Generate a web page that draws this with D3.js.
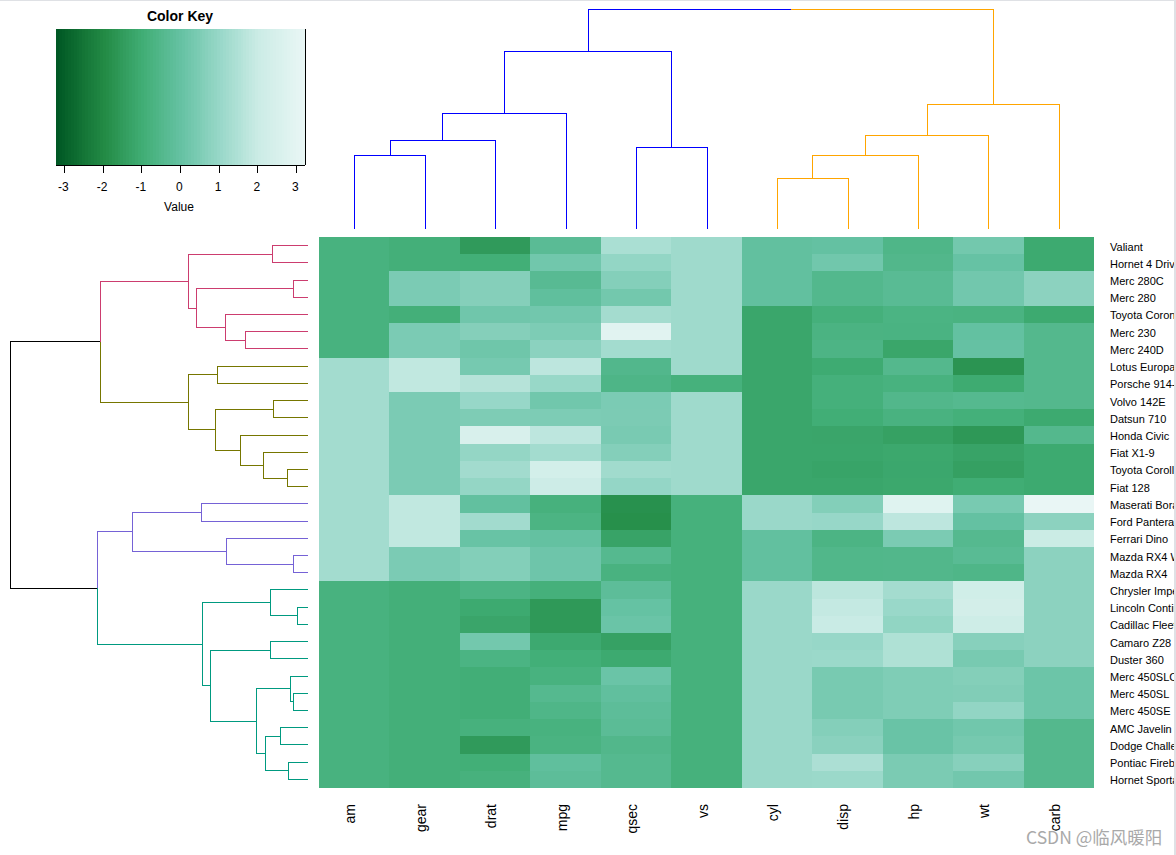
<!DOCTYPE html>
<html>
<head>
<meta charset="utf-8">
<title>mtcars heatmap</title>
<script src="https://cdn.jsdelivr.net/npm/d3@7"></script>
<style>
  html, body { margin: 0; padding: 0; background: #fff; }
  svg { display: block; }
  text { font-family: "Liberation Sans", Arial, sans-serif; fill: #000; }
</style>
</head>
<body>
<div id="chart"></div>
<script>
// row and column order as they come out of the clustering
const rowNames = ['Valiant', 'Hornet 4 Drive', 'Merc 280C', 'Merc 280', 'Toyota Corona', 'Merc 230', 'Merc 240D',
    'Lotus Europa', 'Porsche 914-2', 'Volvo 142E', 'Datsun 710', 'Honda Civic', 'Fiat X1-9', 'Toyota Corolla', 'Fiat 128',
    'Maserati Bora', 'Ford Pantera L', 'Ferrari Dino', 'Mazda RX4 Wag', 'Mazda RX4',
    'Chrysler Imperial', 'Lincoln Continental', 'Cadillac Fleetwood', 'Camaro Z28', 'Duster 360',
    'Merc 450SLC', 'Merc 450SL', 'Merc 450SE', 'AMC Javelin', 'Dodge Challenger', 'Pontiac Firebird', 'Hornet Sportabout'];
const colNames = ['am', 'gear', 'drat', 'mpg', 'qsec', 'vs', 'cyl', 'disp', 'hp', 'wt', 'carb'];

// scaled values, one array per column, in rowNames order
const am = [-0.81, -0.81, -0.81, -0.81, -0.81, -0.81, -0.81, 1.19, 1.19, 1.19, 1.19, 1.19, 1.19, 1.19, 1.19, 1.19, 1.19, 1.19, 1.19, 1.19,
    -0.81, -0.81, -0.81, -0.81, -0.81, -0.81, -0.81, -0.81, -0.81, -0.81, -0.81, -0.81];
const gear = [-0.93, -0.93, 0.42, 0.42, -0.93, 0.42, 0.42, 1.78, 1.78, 0.42, 0.42, 0.42, 0.42, 0.42, 0.42, 1.78, 1.78, 1.78, 0.42, 0.42,
    -0.93, -0.93, -0.93, -0.93, -0.93, -0.93, -0.93, -0.93, -0.93, -0.93, -0.93, -0.93];
const drat = [-1.56, -0.97, 0.60, 0.60, 0.19, 0.60, 0.17, 0.32, 1.56, 0.96, 0.47, 2.49, 0.90, 1.17, 0.90, -0.11, 1.17, 0.04, 0.57, 0.57,
    -0.69, -1.12, -1.25, 0.25, -0.72, -0.98, -0.98, -0.98, -0.84, -1.56, -0.97, -0.84];
const mpg = [-0.33, 0.22, -0.38, -0.15, 0.23, 0.45, 0.72, 1.71, 0.98, 0.22, 0.45, 1.71, 1.20, 2.29, 2.04, -0.84, -0.71, -0.06, 0.15, 0.15,
    -0.89, -1.61, -1.61, -1.13, -0.96, -0.81, -0.46, -0.61, -0.81, -0.76, -0.15, -0.23];
const qsec = [1.33, 0.89, 0.59, 0.25, 1.21, 2.83, 1.20, -0.53, -0.64, 0.42, 0.43, 0.38, 0.59, 1.15, 0.91, -1.82, -1.87, -1.31, -0.46, -0.78,
    -0.24, -0.02, 0.07, -1.36, -1.12, 0.08, -0.14, -0.25, -0.31, -0.55, -0.45, -0.46];
const vs = [1.12, 1.12, 1.12, 1.12, 1.12, 1.12, 1.12, 1.12, -0.87, 1.12, 1.12, 1.12, 1.12, 1.12, 1.12, -0.87, -0.87, -0.87, -0.87, -0.87,
    -0.87, -0.87, -0.87, -0.87, -0.87, -0.87, -0.87, -0.87, -0.87, -0.87, -0.87, -0.87];
const cyl = [-0.10, -0.10, -0.10, -0.10, -1.22, -1.22, -1.22, -1.22, -1.22, -1.22, -1.22, -1.22, -1.22, -1.22, -1.22, 1.01, 1.01, -0.10, -0.10, -0.10,
    1.01, 1.01, 1.01, 1.01, 1.01, 1.01, 1.01, 1.01, 1.01, 1.01, 1.01, 1.01];
const disp = [-0.05, 0.22, -0.51, -0.51, -0.89, -0.73, -0.68, -1.09, -0.89, -0.89, -0.99, -1.25, -1.22, -1.29, -1.23, 0.57, 0.97, -0.69, -0.57, -0.57,
    1.69, 1.85, 1.95, 0.96, 1.04, 0.36, 0.36, 0.36, 0.59, 0.70, 1.37, 1.04];
const hp = [-0.61, -0.54, -0.35, -0.35, -0.72, -0.75, -1.24, -0.49, -0.81, -0.55, -0.78, -1.38, -1.18, -1.19, -1.18, 2.75, 1.71, 0.41, -0.54, -0.54,
    1.21, 1.00, 0.85, 1.43, 1.43, 0.49, 0.49, 0.49, 0.05, 0.05, 0.41, 0.41];
const wt = [0.25, 0.00, 0.23, 0.23, -0.77, -0.07, -0.03, -1.74, -1.10, -0.45, -0.92, -1.64, -1.31, -1.41, -1.04, 0.36, -0.05, -0.46, -0.35, -0.61,
    2.17, 2.26, 2.08, 0.64, 0.36, 0.58, 0.52, 0.87, 0.22, 0.31, 0.64, 0.23];
const carb = [-1.12, -1.12, 0.74, 0.74, -1.12, -0.50, -0.50, -0.50, -0.50, -0.50, -1.12, -0.50, -1.12, -1.12, -1.12, 3.21, 0.74, 1.98, 0.74, 0.74,
    0.74, 0.74, 0.74, 0.74, 0.74, 0.12, 0.12, 0.12, -0.50, -0.50, -0.50, -0.50];
const columns = [am, gear, drat, mpg, qsec, vs, cyl, disp, hp, wt, carb];

// merges: [left, right, height]. A string is a leaf, a number is an earlier merge.
const rowMerges = [
    ['Valiant', 'Hornet 4 Drive', 1.80],        // 0
    ['Merc 280C', 'Merc 280', 0.75],            // 1
    ['Merc 230', 'Merc 240D', 3.15],            // 2
    ['Toyota Corona', 2, 4.15],                 // 3
    [1, 3, 5.60],                               // 4
    [0, 4, 6.00],                               // 5
    ['Lotus Europa', 'Porsche 914-2', 4.55],    // 6
    ['Volvo 142E', 'Datsun 710', 1.75],         // 7
    ['Toyota Corolla', 'Fiat 128', 1.05],       // 8
    ['Fiat X1-9', 8, 2.25],                     // 9
    ['Honda Civic', 9, 3.40],                   // 10
    [7, 10, 4.65],                              // 11
    [6, 11, 6.00],                              // 12
    [5, 12, 10.40],                             // 13
    ['Maserati Bora', 'Ford Pantera L', 5.35],  // 14
    ['Mazda RX4 Wag', 'Mazda RX4', 0.75],       // 15
    ['Ferrari Dino', 15, 4.10],                 // 16
    [14, 16, 8.80],                             // 17
    ['Lincoln Continental', 'Cadillac Fleetwood', 0.55], // 18
    ['Chrysler Imperial', 18, 1.90],            // 19
    ['Camaro Z28', 'Duster 360', 1.90],         // 20
    ['Merc 450SL', 'Merc 450SE', 0.75],         // 21
    ['Merc 450SLC', 21, 0.90],                  // 22
    ['AMC Javelin', 'Dodge Challenger', 1.40],  // 23
    ['Pontiac Firebird', 'Hornet Sportabout', 1.00], // 24
    [23, 24, 2.15],                             // 25
    [22, 25, 2.60],                             // 26
    [20, 26, 4.90],                             // 27
    [19, 27, 5.30],                             // 28
    [17, 28, 10.55],                            // 29
    [13, 29, 14.90]                             // 30
];
const colMerges = [
    ['am', 'gear', 3.70],   // 0
    [0, 'drat', 4.45],      // 1
    [1, 'mpg', 5.80],       // 2
    ['qsec', 'vs', 4.10],   // 3
    [2, 3, 8.90],           // 4
    ['cyl', 'disp', 2.55],  // 5
    [5, 'hp', 3.70],        // 6
    [6, 'wt', 4.70],        // 7
    [7, 'carb', 6.25],      // 8
    [4, 8, 11.00]           // 9
];

// which merge starts which coloured branch
const rowBranches = [[5, '#cc3d6f'], [12, '#767600'], [17, '#7562d6'], [28, '#009a80']];
const colBranches = [[4, '#0000ff'], [8, '#ffa500']];

const keyTicks = [-3, -2, -1, 0, 1, 2, 3];
const keyRange = [-3.22, 3.22];
const paletteStops = ['#005824', '#238b45', '#41ae76', '#66c2a4', '#99d8c9', '#ccece6', '#e5f5f3', '#f7fcfd'];
const paletteDomain = [-3.22, -2, -1, 0, 1, 2, 3, 4];

const width = 1176, height = 855;
const heat = { left: 319, right: 1094, top: 237, bottom: 788 };
const keyBox = { left: 56, right: 305, top: 29, bottom: 165 };

const svg = d3.select('#chart').append('svg').attr('width', width).attr('height', height);

const color = d3.scaleLinear().domain(paletteDomain).range(paletteStops);
const x = d3.scaleBand().domain(colNames).range([heat.left, heat.right]);
const y = d3.scaleBand().domain(rowNames).range([heat.top, heat.bottom]);

// heatmap cells, snapped to whole pixels so no seams show
const cells = svg.append('g').attr('shape-rendering', 'crispEdges');
colNames.forEach((col, c) => {
    const x0 = Math.round(x(col)), x1 = Math.round(x(col) + x.bandwidth());
    cells.selectAll(null)
        .data(columns[c])
        .join('rect')
        .attr('x', x0)
        .attr('y', (d, i) => Math.round(y(rowNames[i])))
        .attr('width', x1 - x0)
        .attr('height', (d, i) => Math.round(y(rowNames[i]) + y.bandwidth()) - Math.round(y(rowNames[i])))
        .attr('fill', d => color(d));
});

// turns a merge list into a drawable tree
const buildTree = (merges, branches) => {
    const colorOf = new Map(branches);
    const node = (ref, inherited) => {
        if (typeof ref === 'string') return { leaf: ref, h: 0, color: inherited };
        const [a, b, h] = merges[ref];
        const c = colorOf.get(ref) || inherited;
        return { h, color: c, children: [node(a, c), node(b, c)] };
    };
    return node(merges.length - 1, '#000');
};

const drawDendrogram = (g, root, hScale, leafScale, horizontal) => {
    const place = n => {
        if (n.children) {
            n.children.forEach(place);
            n.p = d3.mean(n.children, k => k.p);
        } else {
            n.p = leafScale(n.leaf) + leafScale.bandwidth() / 2;
        }
    };
    place(root);
    const pt = (p, h) => horizontal ? [p, hScale(h)] : [hScale(h), p];
    const edges = [];
    const walk = n => {
        if (!n.children) return;
        n.children.forEach(k => {
            edges.push({ color: k.color, pts: [pt(n.p, n.h), pt(k.p, n.h), pt(k.p, k.h)] });
            walk(k);
        });
    };
    walk(root);
    g.selectAll('path')
        .data(edges)
        .join('path')
        .attr('d', d => d3.line()(d.pts))
        .attr('fill', 'none')
        .attr('stroke', d => d.color)
        .attr('stroke-width', 1)
        .attr('shape-rendering', 'crispEdges');
};

const rowHeight = d3.scaleLinear().domain([0, 14.9]).range([308, 10.5]);
const colHeight = d3.scaleLinear().domain([0, 11]).range([229, 9.5]);
drawDendrogram(svg.append('g'), buildTree(rowMerges, rowBranches), rowHeight, y, false);
drawDendrogram(svg.append('g').attr('transform', 'translate(0.6,0)'), buildTree(colMerges, colBranches), colHeight, x, true);

// row labels
svg.append('g')
    .attr('transform', `translate(${heat.right},0)`)
    .call(d3.axisRight(y).tickSize(0).tickPadding(16))
    .call(g => g.select('.domain').remove())
    .selectAll('text')
    .attr('dy', '0.45em')
    .style('font-family', '"Liberation Sans", Arial, sans-serif')
    .style('font-size', '11px');

// column labels
const colAxis = svg.append('g')
    .attr('transform', `translate(0,${heat.bottom})`)
    .call(d3.axisBottom(x).tickSize(0));
colAxis.select('.domain').remove();
colAxis.selectAll('text')
    .attr('transform', 'translate(1,16) rotate(-90)')
    .attr('x', 0)
    .attr('y', 0)
    .attr('dy', 0)
    .attr('text-anchor', 'end')
    .style('font-family', '"Liberation Sans", Arial, sans-serif')
    .style('font-size', '14px');

// color key
const keyX = d3.scaleLinear().domain(keyRange).range([keyBox.left, keyBox.right]);
const keyBreaks = d3.range(keyRange[0], keyRange[1], (keyRange[1] - keyRange[0]) / 85);
svg.append('g')
    .attr('shape-rendering', 'crispEdges')
    .selectAll('rect')
    .data(keyBreaks)
    .join('rect')
    .attr('x', d => keyX(d))
    .attr('y', keyBox.top)
    .attr('width', (keyBox.right - keyBox.left) / 85 + 0.5)
    .attr('height', keyBox.bottom - keyBox.top)
    .attr('fill', d => color(d));

svg.append('path')
    .attr('d', d3.line()([[keyBox.right, keyBox.top], [keyBox.right, keyBox.bottom]]))
    .attr('stroke', '#000')
    .attr('shape-rendering', 'crispEdges');

svg.append('g')
    .attr('transform', `translate(-0.6,${keyBox.bottom})`)
    .call(d3.axisBottom(keyX).tickValues(keyTicks).tickFormat(d => String(d)).tickSize(8).tickSizeOuter(0).tickPadding(9))
    .call(g => g.selectAll('path, line').attr('stroke', '#000').attr('shape-rendering', 'crispEdges'))
    .selectAll('text')
    .attr('dx', -1)
    .style('font-family', '"Liberation Sans", Arial, sans-serif')
    .style('font-size', '12px');

svg.append('text')
    .attr('x', 180).attr('y', 21)
    .attr('text-anchor', 'middle')
    .style('font-size', '14px')
    .style('font-weight', 'bold')
    .text('Color Key');
svg.append('text')
    .attr('x', 179).attr('y', 211)
    .attr('text-anchor', 'middle')
    .style('font-size', '12px')
    .text('Value');

// site watermark
svg.append('text')
    .attr('x', 1026).attr('y', 844)
    .style('font-family', '"Noto Sans CJK SC", "Noto Sans", sans-serif')
    .style('font-size', '17.5px')
    .style('fill', '#a9a9a9')
    .text('CSDN @临风暖阳');

// thin grey edges of the screenshot
svg.append('g')
    .attr('fill', '#dfe1e5')
    .attr('shape-rendering', 'crispEdges')
    .call(g => g.append('rect').attr('x', 0).attr('y', 0).attr('width', width).attr('height', 1))
    .call(g => g.append('rect').attr('x', width - 2).attr('y', 0).attr('width', 2).attr('height', height));
</script>
</body>
</html>
